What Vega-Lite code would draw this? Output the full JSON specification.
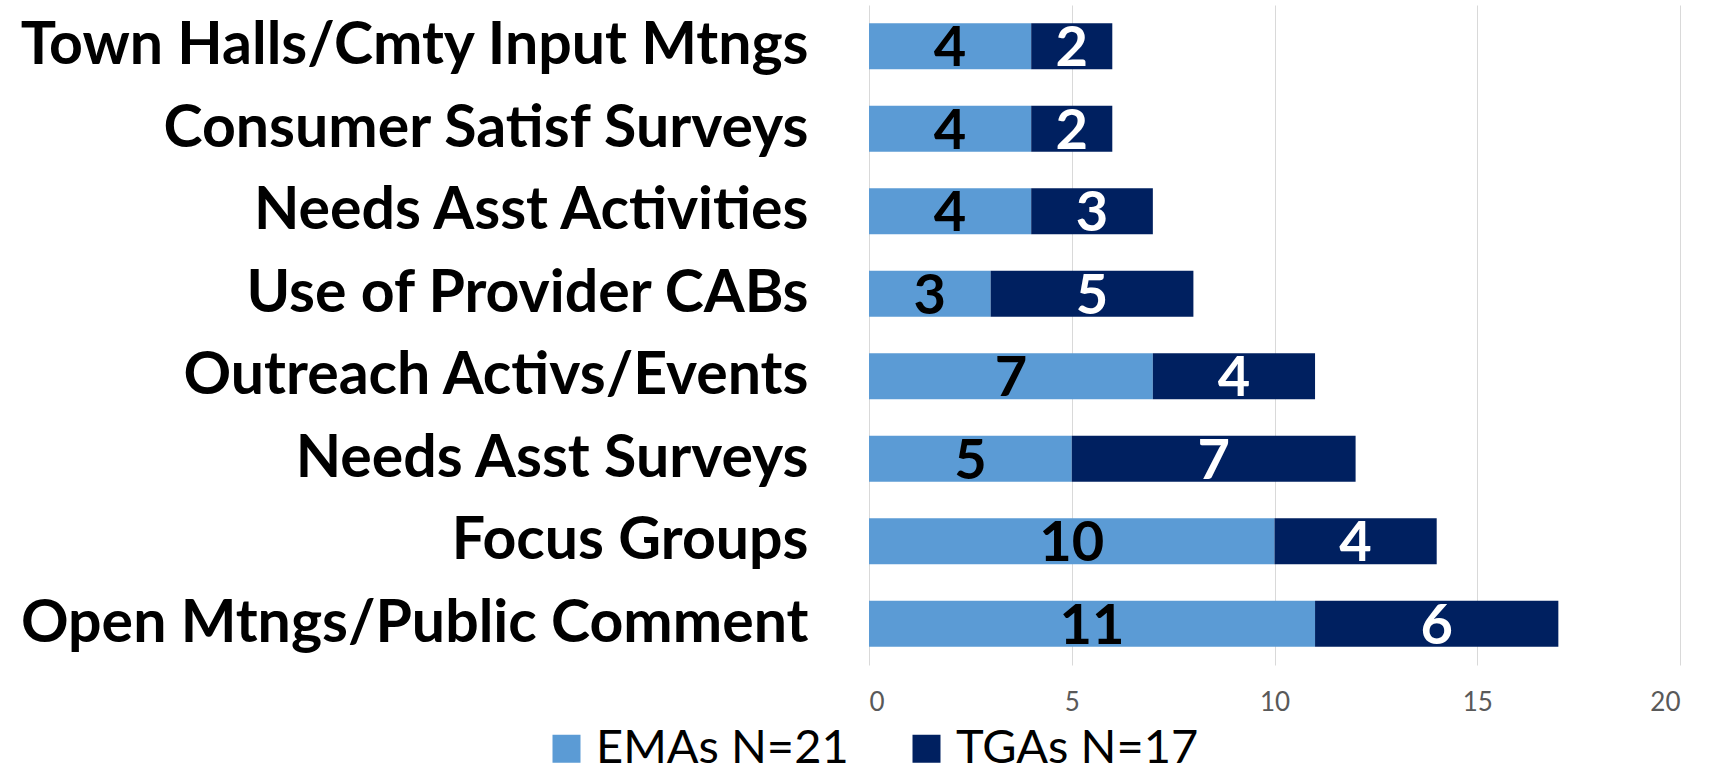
{
  "$schema": "https://vega.github.io/schema/vega-lite/v6.json",
  "autosize": {"type": "none"},
  "width": 811,
  "height": 660,
  "padding": {"left": 869, "top": 5, "right": 31, "bottom": 108},
  "background": "white",
  "config": {
    "view": {"stroke": null},
    "font": "Lato"
  },
  "data": {
    "values": [
      {"cat": "Town Halls/Cmty Input Mtngs", "series": "EMAs N=21", "value": 4},
      {"cat": "Town Halls/Cmty Input Mtngs", "series": "TGAs N=17", "value": 2},
      {"cat": "Consumer Satisf Surveys", "series": "EMAs N=21", "value": 4},
      {"cat": "Consumer Satisf Surveys", "series": "TGAs N=17", "value": 2},
      {"cat": "Needs Asst Activities", "series": "EMAs N=21", "value": 4},
      {"cat": "Needs Asst Activities", "series": "TGAs N=17", "value": 3},
      {"cat": "Use of Provider CABs", "series": "EMAs N=21", "value": 3},
      {"cat": "Use of Provider CABs", "series": "TGAs N=17", "value": 5},
      {"cat": "Outreach Activs/Events", "series": "EMAs N=21", "value": 7},
      {"cat": "Outreach Activs/Events", "series": "TGAs N=17", "value": 4},
      {"cat": "Needs Asst Surveys", "series": "EMAs N=21", "value": 5},
      {"cat": "Needs Asst Surveys", "series": "TGAs N=17", "value": 7},
      {"cat": "Focus Groups", "series": "EMAs N=21", "value": 10},
      {"cat": "Focus Groups", "series": "TGAs N=17", "value": 4},
      {"cat": "Open Mtngs/Public Comment", "series": "EMAs N=21", "value": 11},
      {"cat": "Open Mtngs/Public Comment", "series": "TGAs N=17", "value": 6}
    ]
  },
  "transform": [
    {"stack": "value", "groupby": ["cat"], "sort": [{"field": "series", "order": "ascending"}], "as": ["x0", "x1"]},
    {"calculate": "(datum.x0 + datum.x1) / 2", "as": "xmid"}
  ],
  "encoding": {
    "y": {
      "field": "cat",
      "type": "nominal",
      "sort": ["Town Halls/Cmty Input Mtngs", "Consumer Satisf Surveys", "Needs Asst Activities", "Use of Provider CABs", "Outreach Activs/Events", "Needs Asst Surveys", "Focus Groups", "Open Mtngs/Public Comment"],
      "scale": {"paddingInner": 0.44, "paddingOuter": 0.22},
      "axis": {
        "title": null,
        "domain": false,
        "ticks": false,
        "labelPadding": 61,
        "labelLimit": 0,
        "labelFontSize": 59,
        "labelFontWeight": "bold",
        "labelColor": "black",
        "labelFont": "Lato"
      }
    }
  },
  "layer": [
    {
      "mark": {"type": "bar"},
      "encoding": {
        "x": {
          "field": "x0",
          "type": "quantitative",
          "scale": {"domain": [0, 20], "nice": false},
          "axis": {
            "title": null,
            "values": [0, 5, 10, 15, 20],
            "domain": false,
            "ticks": false,
            "grid": true,
            "gridColor": "#d9d9d9",
            "gridWidth": 1,
            "labelColor": "#595959",
            "labelFontSize": 26,
            "labelPadding": 24,
            "labelFont": "Lato"
          }
        },
        "x2": {"field": "x1"},
        "color": {
          "field": "series",
          "type": "nominal",
          "scale": {"domain": ["EMAs N=21", "TGAs N=17"], "range": ["#5B9BD5", "#002060"]},
          "legend": {
            "title": null,
            "orient": "none",
            "direction": "horizontal",
            "legendX": -326,
            "legendY": 720,
            "symbolType": "square",
            "symbolSize": 784,
            "symbolStrokeWidth": 0,
            "labelFontSize": 47,
            "labelLimit": 0,
            "labelColor": "black",
            "labelFont": "Lato",
            "labelOffset": 6,
            "columnPadding": 54,
            "padding": 0
          }
        }
      }
    },
    {
      "mark": {"type": "text", "fontSize": 56, "fontWeight": "bold", "font": "Lato", "baseline": "middle", "align": "center", "dy": 3},
      "encoding": {
        "x": {"field": "xmid", "type": "quantitative"},
        "text": {"field": "value", "type": "quantitative"},
        "color": {
          "condition": {"test": "datum.series === 'TGAs N=17'", "value": "white"},
          "value": "black"
        }
      }
    }
  ]
}
